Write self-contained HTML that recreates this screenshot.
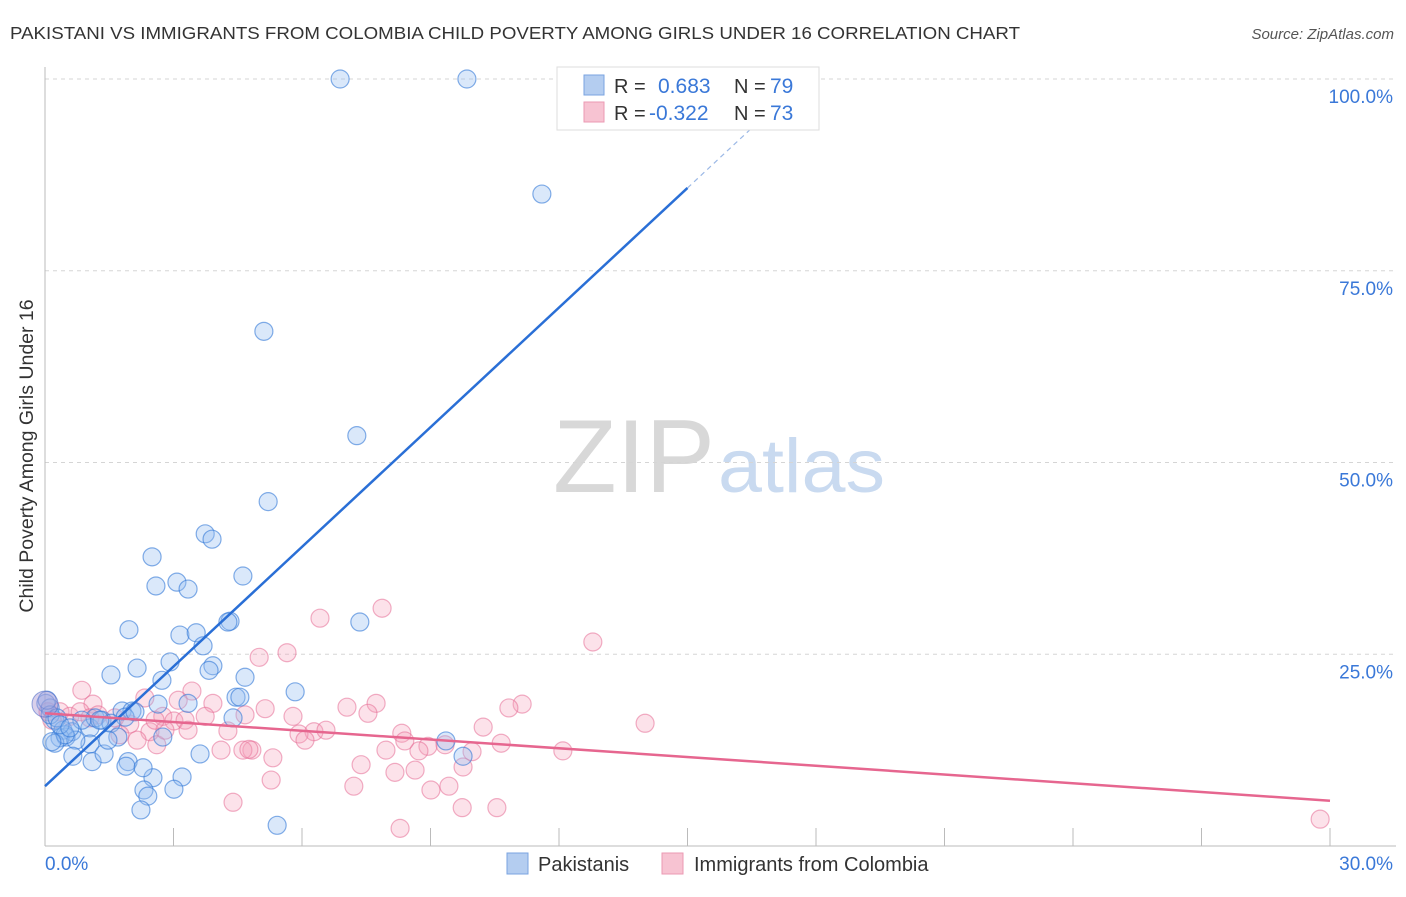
<!DOCTYPE html>
<html><head><meta charset="utf-8"><style>
body{margin:0;background:#fff;font-family:"Liberation Sans",sans-serif}
svg text{font-family:"Liberation Sans",sans-serif}
</style></head><body>
<svg id="chart" width="1406" height="892" xmlns="http://www.w3.org/2000/svg">
<text x="10" y="39" font-size="17.5" fill="#333" textLength="1010" lengthAdjust="spacingAndGlyphs">PAKISTANI VS IMMIGRANTS FROM COLOMBIA CHILD POVERTY AMONG GIRLS UNDER 16 CORRELATION CHART</text>
<text x="1394" y="39" font-size="15" fill="#555" text-anchor="end" font-style="italic">Source: ZipAtlas.com</text>
<g>
<text x="553" y="492" font-size="104" fill="#d8d8d8" font-family="Liberation Serif,serif" textLength="162" lengthAdjust="spacingAndGlyphs">ZIP</text>
<text x="718" y="492" font-size="76" fill="#c9daf0" textLength="167" lengthAdjust="spacingAndGlyphs">atlas</text>
</g>
<g id="grid"></g>
<g id="axes"></g>
<g id="marks"></g>
<g id="trend"></g>
<g>
<rect x="557" y="67" width="262" height="63" fill="#fff" stroke="#ddd"/>
<rect x="584" y="75" width="20" height="20" fill="#b4cdf0" stroke="#7aa3e0"/>
<rect x="584" y="102" width="20" height="20" fill="#f7c3d2" stroke="#eb9ab3"/>
<text x="614" y="93" font-size="20" fill="#333">R = </text><text x="658" y="93" font-size="21" fill="#3a78d8">0.683</text>
<text x="734" y="93" font-size="20" fill="#333">N = </text><text x="770" y="93" font-size="21" fill="#3a78d8">79</text>
<text x="614" y="120" font-size="20" fill="#333">R = </text><text x="649" y="120" font-size="21" fill="#3a78d8">-0.322</text>
<text x="734" y="120" font-size="20" fill="#333">N = </text><text x="770" y="120" font-size="21" fill="#3a78d8">73</text>
</g>
<g>
<rect x="507" y="853" width="21" height="21" fill="#b4cdf0" stroke="#7aa3e0"/>
<text x="538" y="871" font-size="20" fill="#333">Pakistanis</text>
<rect x="662" y="853" width="21" height="21" fill="#f7c3d2" stroke="#eb9ab3"/>
<text x="694" y="871" font-size="20" fill="#333">Immigrants from Colombia</text>
</g>
<text transform="translate(33,456) rotate(-90)" font-size="19.5" fill="#333" text-anchor="middle">Child Poverty Among Girls Under 16</text>
</svg>
<script>
const yTicks=[25,50,75,100];
const yTickLabels=["25.0%","50.0%","75.0%","100.0%"];
const xTicks=[0,3,6,9,12,15,18,21,24,27,30];
const pakX=[6.89,9.85,11.60,5.11,7.28,5.21,3.74,3.90,2.50,4.62,2.59,3.08,3.34,4.32,4.27,7.35,1.96,3.15,3.53,3.69,2.15,2.92,3.92,3.83,2.73,1.54,4.67,5.84,4.46,4.55,3.34,2.64,4.39,1.80,2.03,1.87,2.10,0.02,0.12,0.23,0.42,0.63,1.05,1.17,1.33,1.54,1.70,1.05,0.49,0.35,0.72,0.23,2.75,3.62,9.36,9.76,0.65,1.10,1.38,1.94,1.89,2.52,3.20,2.29,2.31,2.40,3.01,2.24,5.42,0.12,0.28,0.47,0.86,1.28,1.47,0.16,0.35,0.58,0.05];
const pakY=[100,100,85.0,67.1,53.5,44.9,40.7,40.0,37.7,35.2,33.9,34.4,33.5,29.3,29.2,29.2,28.2,27.5,27.8,26.1,23.2,24.0,23.5,22.9,21.6,22.3,22.0,20.1,19.4,19.4,18.6,18.5,16.7,17.6,17.6,16.8,17.5,18.6,18.0,16.4,15.1,14.9,15.4,16.7,16.4,16.0,14.2,13.3,14.2,14.1,13.8,13.4,14.2,12.0,13.7,11.7,11.7,11.0,12.0,11.0,10.4,8.9,9.0,10.2,7.3,6.5,7.4,4.7,2.7,17.1,16.7,14.5,16.4,16.4,13.8,13.6,15.8,15.4,19.0];
const colX=[7.87,6.42,12.79,5.65,5.00,0.86,1.12,2.33,3.43,3.11,3.92,7.05,5.14,5.79,7.73,7.54,11.14,10.83,14.01,10.23,8.33,8.94,8.73,7.96,8.40,6.28,6.56,5.93,6.07,4.83,4.62,4.76,4.11,5.32,5.28,4.39,7.38,7.21,8.17,8.64,9.76,9.97,9.34,12.09,10.65,8.29,9.74,10.55,9.01,9.43,29.77,2.75,3.01,3.27,1.98,2.45,2.61,2.15,1.63,1.24,0.35,0.58,0.16,0.07,0.82,1.05,3.74,3.34,2.80,4.67,4.27,2.57,1.75];
const colY=[31.0,29.7,26.6,25.2,24.6,20.3,18.5,19.3,20.2,19.0,18.6,18.1,17.9,16.9,18.6,17.3,18.5,18.0,16.0,15.5,14.7,13.0,12.4,12.5,13.7,14.9,15.1,14.6,13.8,12.5,12.5,12.6,12.5,11.5,8.6,5.7,10.6,7.8,9.6,9.9,10.3,12.3,13.2,12.4,13.4,2.3,5.0,5.0,7.3,7.8,3.5,16.9,16.3,16.4,15.9,14.9,13.2,13.8,16.7,17.1,17.5,16.9,16.4,17.5,17.5,16.7,16.9,15.1,15.1,17.1,15.0,16.4,14.5];
const pakTrend=[7.8,5.2];
const colTrend=[17.3,-0.38];
const NS="http://www.w3.org/2000/svg";
const X=v=>45+v*(1285/30);
const Y=v=>846-v*7.67;
function mk(tag,attrs,parent){const e=document.createElementNS(NS,tag);for(const k in attrs)e.setAttribute(k,attrs[k]);parent.appendChild(e);return e;}
const grid=document.getElementById('grid'),axes=document.getElementById('axes'),marks=document.getElementById('marks'),trend=document.getElementById('trend');
yTicks.forEach((t,i)=>{
 const l=mk('line',{x1:45,x2:1396,y1:Y(t),y2:Y(t),stroke:'#d5d5d5','stroke-dasharray':'4,4'},grid);
 
 
 const tx=mk('text',{x:1393,y:Y(t)+24,'font-size':19,fill:'#3a78d8','text-anchor':'end'},axes);
 tx.textContent=yTickLabels[i];
 
 
});
const ya=mk('line',{x1:45,x2:45,y1:67,y2:846,stroke:'#bbb'},axes);


const xa=mk('line',{x1:45,x2:1396,y1:846,y2:846,stroke:'#bbb'},axes);


xTicks.forEach(t=>{const l=mk('line',{x1:X(t),x2:X(t),y1:828,y2:846,stroke:'#bbb'},axes);
 
 });
const xl0=mk('text',{x:45,y:870,'font-size':19,fill:'#3a78d8'},axes);xl0.textContent='0.0%';


const xl1=mk('text',{x:1393,y:870,'font-size':19,fill:'#3a78d8','text-anchor':'end'},axes);xl1.textContent='30.0%';


colX.forEach((x,i)=>{const c=mk('circle',{cx:X(x),cy:Y(colY[i]),r:9,fill:'rgba(244,160,185,0.3)',stroke:'rgba(230,110,150,0.55)','stroke-width':1.2},marks);
 
 });
pakX.forEach((x,i)=>{const c=mk('circle',{cx:X(x),cy:Y(pakY[i]),r:9,fill:'rgba(150,190,240,0.35)',stroke:'rgba(50,120,215,0.6)','stroke-width':1.2},marks);
 
 });
const b1=mk('circle',{cx:X(0),cy:Y(18.5),r:13,fill:'rgba(170,150,210,0.45)',stroke:'rgba(80,110,200,0.6)'},marks);


const pY=x=>pakTrend[0]+pakTrend[1]*x, cY=x=>colTrend[0]+colTrend[1]*x;
const t1=mk('line',{x1:X(0),y1:Y(pY(0)),x2:X(15),y2:Y(pY(15)),stroke:'#2a6fd6','stroke-width':2.5},trend);


const t2=mk('line',{x1:X(15),y1:Y(pY(15)),x2:X(16.8),y2:Y(pY(16.8)),stroke:'#9bb8e6','stroke-width':1.2,'stroke-dasharray':'5,4'},trend);


const t3=mk('line',{x1:X(0),y1:Y(cY(0)),x2:X(30),y2:Y(cY(30)),stroke:'#e6668f','stroke-width':2.5},trend);


</script>
</body></html>
